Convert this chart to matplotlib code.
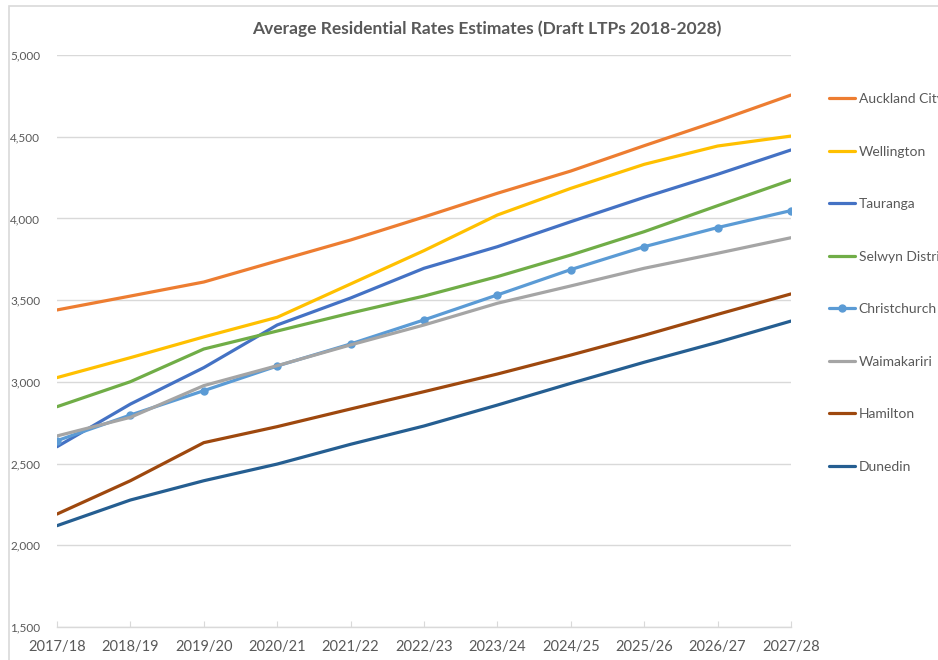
import matplotlib.pyplot as plt
from matplotlib.patches import Rectangle

# Rates data
years = ['2017/18', '2018/19', '2019/20', '2020/21', '2021/22', '2022/23',
         '2023/24', '2024/25', '2025/26', '2026/27', '2027/28']

auckland = [3440, 3525, 3611, 3740, 3868, 4009, 4154, 4290, 4445, 4596, 4755]
wellington = [3026, 3148, 3275, 3395, 3599, 3803, 4021, 4184, 4331, 4443, 4504]
tauranga = [2603, 2864, 3087, 3348, 3513, 3695, 3827, 3980, 4129, 4270, 4419]
selwyn = [2848, 3001, 3201, 3311, 3421, 3525, 3644, 3776, 3919, 4078, 4235]
christchurch = [2640, 2797, 2946, 3097, 3232, 3379, 3532, 3687, 3827, 3944, 4048]
waimakariri = [2669, 2783, 2977, 3099, 3226, 3348, 3481, 3587, 3695, 3787, 3882]
hamilton = [2191, 2395, 2628, 2726, 2834, 2940, 3048, 3164, 3285, 3413, 3538]
dunedin = [2120, 2277, 2395, 2497, 2618, 2730, 2858, 2991, 3120, 3242, 3372]

series = [
    ('Auckland City', auckland, '#ED7D31', None),
    ('Wellington', wellington, '#FFC000', None),
    ('Tauranga', tauranga, '#4472C4', None),
    ('Selwyn District', selwyn, '#70AD47', None),
    ('Christchurch', christchurch, '#5B9BD5', 'o'),
    ('Waimakariri', waimakariri, '#A5A5A5', None),
    ('Hamilton', hamilton, '#9E480E', None),
    ('Dunedin', dunedin, '#255E91', None),
]

plt.rcParams['font.family'] = ['Lato', 'DejaVu Sans']
text_col = '#595959'
grid_col = '#D9D9D9'

fig = plt.figure(figsize=(9.38, 6.6), dpi=100)
ax = fig.add_axes([57 / 938, 1 - 627 / 660, (791 - 57) / 938, (627 - 55) / 660])

# chart border (runs off the right/bottom edge like the screenshot)
fig.patches.append(Rectangle((9 / 938, -0.1), 1.2, 1 - 6 / 660 + 0.1,
                             transform=fig.transFigure, fill=False,
                             edgecolor='#D9D9D9', lw=1.2))

x = list(range(len(years)))
for name, vals, col, mk in series:
    ax.plot(x, vals, color=col, lw=2.3, marker=mk, markersize=5,
            label=name, solid_capstyle='round')

ax.set_xlim(0, len(years) - 1)
ax.set_ylim(1500, 5000)
ax.set_yticks(range(1500, 5001, 500))
ax.set_yticklabels([f'{v:,}' for v in range(1500, 5001, 500)])
ax.set_xticks(x)
ax.set_xticklabels(years)

ax.grid(axis='y', color=grid_col, lw=1)
ax.set_axisbelow(True)
for s in ['top', 'right', 'left']:
    ax.spines[s].set_visible(False)
ax.spines['bottom'].set_color(grid_col)
ax.spines['bottom'].set_linewidth(1)
ax.tick_params(axis='y', length=0, pad=12, labelsize=8.5, labelcolor=text_col)
ax.tick_params(axis='x', direction='in', length=4, color=grid_col, pad=9,
               labelsize=10.5, labelcolor=text_col)

fig.text(487 / 938, 1 - 29 / 660, 'Average Residential Rates Estimates (Draft LTPs 2018-2028)',
         ha='center', va='center', fontsize=12.5, fontweight='bold', color=text_col)

leg = fig.legend(loc='upper left', bbox_to_anchor=(829 / 938, 1 - 93 / 660),
                 frameon=False, fontsize=10, labelspacing=2.92, handlelength=1.85,
                 handletextpad=0.3, borderpad=0, borderaxespad=0)
for t in leg.get_texts():
    t.set_color(text_col)

fig.savefig('out.png', dpi=100)
